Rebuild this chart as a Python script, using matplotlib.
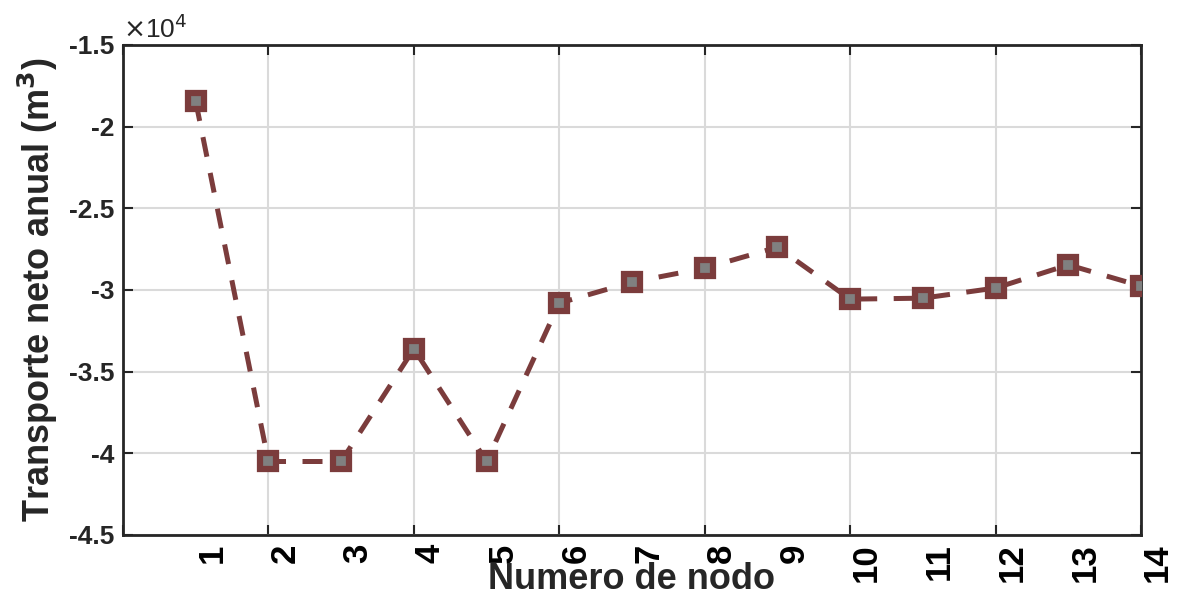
import matplotlib
matplotlib.use("Agg")
import matplotlib.pyplot as plt
import numpy as np

nodes = list(range(1, 15))
transporte = [-18450, -40500, -40500, -33600, -40500, -30800, -29520,
              -28660, -27380, -30560, -30500, -29880, -28460, -29760]
xtick_labels = [str(n) for n in nodes]
ytick_vals = [-4.5, -4, -3.5, -3, -2.5, -2, -1.5]
ytick_labels = ["-4.5", "-4", "-3.5", "-3", "-2.5", "-2", "-1.5"]

plt.rcParams['font.family'] = ['Liberation Sans', 'DejaVu Sans']
txt = '#262626'

fig = plt.figure(figsize=(11.79, 5.97), dpi=100)
ax = fig.add_axes([123/1179, 1-535/597, (1141-123)/1179, (535-45)/597])

scale = 1e4
ax.plot(nodes, np.array(transporte)/scale, linestyle=(0, (4, 3.3)), color='#7b3c3c',
        linewidth=3.6, marker='s', markersize=12, markerfacecolor='#808080',
        markeredgecolor='#7b3c3c', markeredgewidth=4.5, zorder=3)

ax.set_xlim(0, 14)
ax.set_ylim(-4.5, -1.5)

ax.xaxis.remove_overlapping_locs = False
ax.set_xticks(np.arange(0, 15, 2))
ax.set_xticklabels([])
ax.set_xticks(nodes, minor=True)
ax.set_xticklabels(xtick_labels, minor=True, rotation=90, fontsize=25,
                   fontweight='bold', color='black', va='top', ha='left')
ax.tick_params(axis='x', which='minor', length=0, pad=6)
ax.tick_params(axis='x', which='major', direction='in', length=7, width=1.5,
               top=True, bottom=True, color=txt)

ax.set_yticks(ytick_vals)
ax.set_yticklabels(ytick_labels, fontsize=19, fontweight='bold', color=txt)
ax.tick_params(axis='y', direction='in', length=7, width=1.5, left=True,
               right=True, color=txt, pad=6)

ax.grid(True, which='major', color='#dadada', linewidth=1.5)
ax.set_axisbelow(True)
for s in ax.spines.values():
    s.set_linewidth(2)
    s.set_color(txt)

ax.set_xlabel("Numero de nodo", fontsize=26, fontweight='bold', color=txt,
              va='baseline')
ax.xaxis.set_label_coords(0.5, (535-589)/490)
ax.set_ylabel(r"Transporte neto anual (m$^\mathbf{3}$)", fontsize=26,
              fontweight='bold', color=txt, va='center')
ax.yaxis.set_label_coords((38-123)/1018, 0.5)
ax.text(0.0, 1.005, r"$\times$10$^4$", transform=ax.transAxes, fontsize=19,
        color=txt, ha='left', va='bottom')

fig.savefig("out.png", dpi=100)
